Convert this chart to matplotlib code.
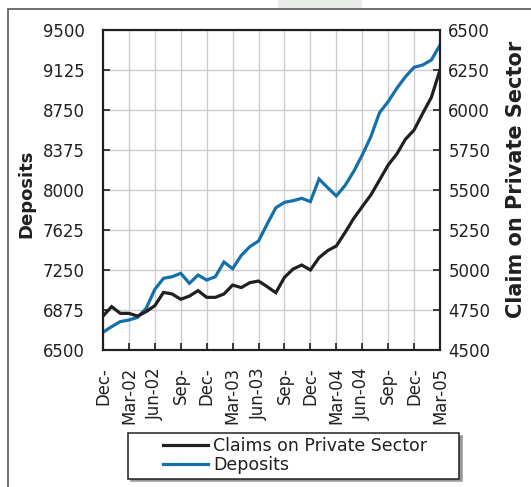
import matplotlib
matplotlib.use("Agg")
import matplotlib.pyplot as plt
from matplotlib.patches import Rectangle

# monthly data, Dec-01 .. Mar-05
deposits = [6666, 6719, 6766, 6781, 6806, 6891, 7069, 7172, 7187, 7219,
            7125, 7203, 7156, 7187, 7325, 7262, 7387, 7469, 7522, 7681,
            7834, 7884, 7900, 7922, 7891, 8103, 8022, 7944, 8041, 8172,
            8328, 8500, 8725, 8828, 8953, 9062, 9150, 9172, 9219, 9359]
claims = [4712, 4771, 4729, 4729, 4712, 4740, 4777, 4860, 4850, 4817,
          4837, 4871, 4829, 4829, 4850, 4906, 4890, 4921, 4931, 4896,
          4858, 4954, 5006, 5031, 5000, 5077, 5121, 5150, 5233, 5321,
          5396, 5469, 5562, 5656, 5725, 5817, 5875, 5979, 6079, 6250]
quarter_labels = ["Dec-", "Mar-02", "Jun-02", "Sep-", "Dec-", "Mar-03", "Jun-03",
                  "Sep-", "Dec-", "Mar-04", "Jun-04", "Sep-", "Dec-", "Mar-05"]
left_ticks = [6500, 6875, 7250, 7625, 8000, 8375, 8750, 9125, 9500]
right_ticks = [4500, 4750, 5000, 5250, 5500, 5750, 6000, 6250, 6500]

BLUE = "#1470aa"
BLACK = "#231f20"
TXT = "#231f20"

months = list(range(len(deposits)))
quarter_pos = months[::3]

fig = plt.figure(figsize=(5.31, 4.87), dpi=100)
W, H = 531, 487
ax = fig.add_axes([103 / W, 1 - 350 / H, (440 - 103) / W, (350 - 30) / H])
ax2 = ax.twinx()

# page frame and faint tab at the top
fig.patches.append(Rectangle((278 / W, 1 - 8 / H), 84 / W, 8 / H, transform=fig.transFigure,
                             facecolor="#e9ebe9", edgecolor="none", zorder=0))
fig.patches.append(Rectangle((8 / W, -0.05), 1.1, 1 - 8.5 / H + 0.05, transform=fig.transFigure,
                             facecolor="none", edgecolor="#555555", linewidth=1.2, zorder=1))

ax.plot(months, deposits, color=BLUE, linewidth=2.3, solid_joinstyle="miter", zorder=3)
ax2.plot(months, claims, color=BLACK, linewidth=2.3, solid_joinstyle="miter", zorder=3)

ax.set_xlim(0, 39)
ax.set_ylim(6500, 9500)
ax2.set_ylim(4500, 6500)

ax.set_xticks(quarter_pos)
ax.set_xticklabels(quarter_labels, rotation=90, fontsize=11.9, color=TXT)
ax.set_yticks(left_ticks)
ax.set_yticklabels([str(v) for v in left_ticks], fontsize=11.9, color=TXT)
ax2.set_yticks(right_ticks)
ax2.set_yticklabels([str(v) for v in right_ticks], fontsize=11.9, color=TXT)

ax.grid(True, color="#cccccc", linewidth=1.0)
ax.set_axisbelow(True)

ax.tick_params(axis="x", direction="in", length=5, width=1.2, pad=12.5, colors=BLACK,
               labelcolor=TXT, top=False)
ax.tick_params(axis="y", direction="in", length=5, width=1.2, pad=13, colors=BLACK,
               labelcolor=TXT, right=False)
ax2.tick_params(axis="y", direction="in", length=5, width=1.2, pad=6, colors=BLACK,
                labelcolor=TXT)

for a in (ax, ax2):
    for s in a.spines.values():
        s.set_linewidth(1.5)
        s.set_color(BLACK)

ax.set_ylabel("Deposits", fontsize=13, fontweight="bold", color=TXT, va="center")
ax.yaxis.set_label_coords((26 - 103) / 337, (350 - 194) / 320)
ax2.set_ylabel("Claim on Private Sector", fontsize=15, fontweight="bold", color=TXT,
               rotation=90, va="center")
ax2.yaxis.set_label_coords((516 - 103) / 337, (350 - 179) / 320)

leg = fig.legend(ax2.get_lines() + ax.get_lines(), ["Claims on Private Sector", "Deposits"],
                 loc="upper left", bbox_to_anchor=(128 / W, 1 - 475 / H, 331 / W, 42 / H),
                 mode="expand", borderaxespad=0, fontsize=12.5, frameon=True, fancybox=False,
                 edgecolor=BLACK, framealpha=1, borderpad=0.25, labelspacing=0.05,
                 handlelength=4.35, handletextpad=0.3,
                 shadow={"color": "#999999", "alpha": 1})
leg.get_frame().set_linewidth(1.1)
for t in leg.get_texts():
    t.set_color(TXT)
# shorten legend handles from the left, as in the original
for ln in leg.legend_handles:
    xd = ln.get_xdata()
    yd = ln.get_ydata()
    ln.set_data([xd[0] + 0.41 * (xd[-1] - xd[0]), xd[-1]], [yd[0], yd[-1]])

fig.savefig("out.png", dpi=100)
